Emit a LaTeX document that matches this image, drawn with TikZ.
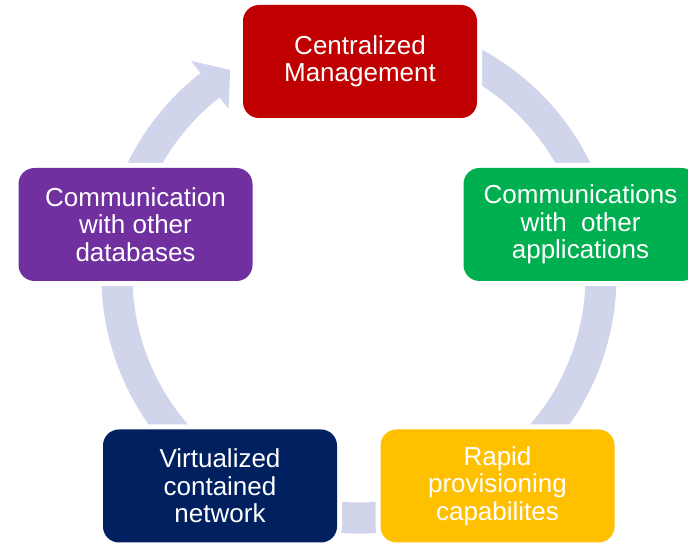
\documentclass[tikz,border=0pt]{standalone}
\usepackage{fontspec}
\setmainfont{Liberation Sans}
\definecolor{ringcol}{RGB}{208,213,235}
\definecolor{cred}{RGB}{192,0,0}
\definecolor{cgreen}{RGB}{0,176,80}
\definecolor{cyellow}{RGB}{255,192,0}
\definecolor{cnavy}{RGB}{0,32,96}
\definecolor{cpurple}{RGB}{112,48,160}
\tikzset{
  box/.style={rounded corners=16pt, minimum width=234pt, minimum height=113pt,
    align=center, text=white, font=\fontsize{26}{27.5}\selectfont,
    inner sep=0pt, preaction={draw=white, line width=10pt}},
  ring/.style={fill=ringcol}
}
\begin{document}
\begin{tikzpicture}[x=1pt,y=1pt]
\clip (0,0) rectangle (688,543);
% circular arrow
\fill[ring, shift={(359,267)}]
  (75:257.5) arc[start angle=75, end angle=-232, radius=257.5]
  -- (-232:273) -- (-238:243) -- (-232:212) -- (-232:226.5)
  arc[start angle=-232, end angle=75, radius=226.5] -- cycle;
% boxes
\node[box, fill=cred]    (central) at (360,481.5) {Centralized\\Management};
\node[box, fill=cgreen]  (apps)    at (580.5,318.5) {Communications\\with\ \ other\\applications};
\node[box, fill=cyellow] (rapid)   at (497.5,57) {Rapid\\provisioning\\capabilites};
\node[box, fill=cnavy]   (virt)    at (220,57) {Virtualized\\contained\\network};
\node[box, fill=cpurple] (dbs)     at (135.5,318.5) {Communication\\with other\\databases};
\end{tikzpicture}
\end{document}
